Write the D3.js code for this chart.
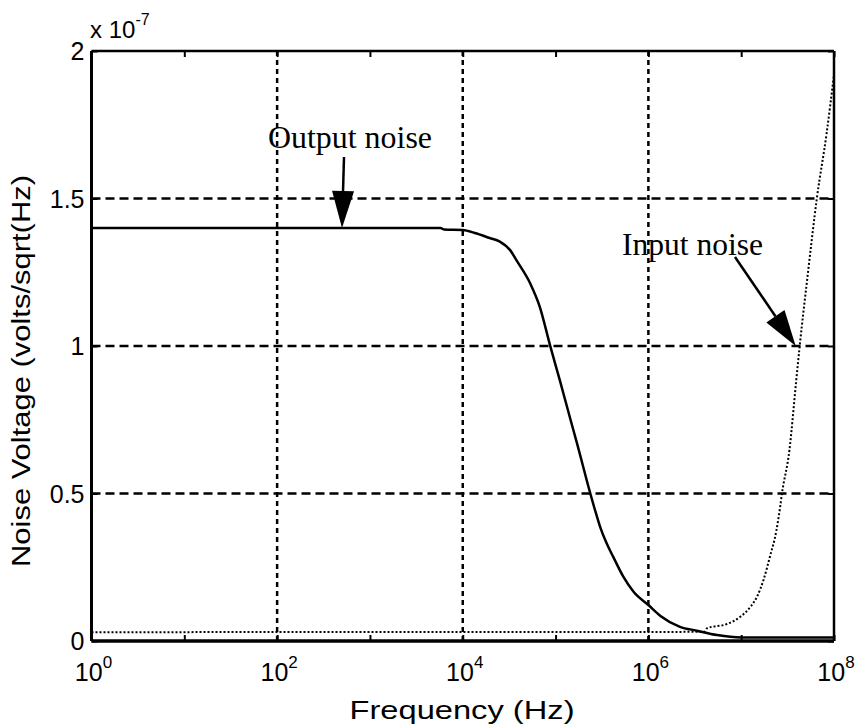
<!DOCTYPE html>
<html>
<head>
<meta charset="utf-8">
<script src="https://cdn.jsdelivr.net/npm/d3@7"></script>
<style>
  html, body { margin: 0; padding: 0; background: #fff; }
  svg { display: block; }
</style>
</head>
<body>
<svg id="chart" width="860" height="727"></svg>
<script>
// ---- data (values in units of 1e-7 V/sqrt(Hz)) ----
const outputFreq  = [1, 5.75e3, 6.31e3, 1e4, 1.35e4, 1.95e4, 2.51e4, 3.24e4, 3.8e4, 5.37e4, 6.76e4, 8.71e4, 1.12e5, 1.45e5, 1.70e5, 2.34e5, 2.66e5, 3.02e5, 3.55e5, 4.17e5, 5.37e5, 6.92e5, 1e6, 1.35e6, 2.19e6, 3.31e6, 5.5e6, 1e7, 1e8];
const outputNoise = [1.40, 1.40, 1.395, 1.393, 1.383, 1.366, 1.354, 1.325, 1.29, 1.21, 1.133, 1.003, 0.88, 0.75, 0.671, 0.506, 0.444, 0.387, 0.331, 0.286, 0.218, 0.167, 0.122, 0.085, 0.048, 0.035, 0.02, 0.012, 0.012];

const inputFreq  = [1, 3.98e6, 4.27e6, 7.08e6, 9.77e6, 1.26e7, 1.48e7, 1.74e7, 2.04e7, 2.40e7, 2.63e7, 2.75e7, 3.31e7, 3.89e7, 4.27e7, 5.25e7, 6.53e7, 8.32e7, 1e8];
const inputNoise = [0.030, 0.031, 0.043, 0.058, 0.082, 0.116, 0.15, 0.207, 0.286, 0.376, 0.455, 0.5, 0.647, 0.873, 1.0, 1.25, 1.5, 1.72, 1.92];

const xTickValues = [1, 1e2, 1e4, 1e6, 1e8];
const xTickExps   = ["0", "2", "4", "6", "8"];
const xMinorTicks = [1, 1e1, 1e2, 1e3, 1e4, 1e5, 1e6, 1e7, 1e8];
const yTickValues = [0, 0.5, 1, 1.5, 2];
const yTickLabels = ["0", "0.5", "1", "1.5", "2"];

// ---- layout ----
const L = 91.5, R = 834, T = 51, B = 641;
const svg = d3.select("#chart");
const x = d3.scaleLog().domain([1, 1e8]).range([L, R]);
const y = d3.scaleLinear().domain([0, 2]).range([B, T]);
const sans = "'Liberation Sans', Arial, sans-serif";
const serif = "'Liberation Serif', 'Times New Roman', serif";

// grid
const grid = svg.append("g").attr("stroke", "#000").attr("stroke-width", 2.5).attr("fill", "none");
grid.selectAll(".vg").data(xTickValues.slice(1, -1)).enter().append("line")
  .attr("x1", d => x(d)).attr("x2", d => x(d)).attr("y1", T).attr("y2", B)
  .attr("stroke-dasharray", "5,4");
grid.selectAll(".hg").data(yTickValues.slice(1, -1)).enter().append("line")
  .attr("y1", d => y(d)).attr("y2", d => y(d)).attr("x1", L).attr("x2", R)
  .attr("stroke-dasharray", "9,5");

// curves
const line = d3.line().x(d => x(d[0])).y(d => y(d[1])).curve(d3.curveMonotoneX);
svg.append("path").datum(inputFreq.map((f, i) => [f, inputNoise[i]]))
  .attr("d", line).attr("fill", "none").attr("stroke", "#000")
  .attr("stroke-width", 2).attr("stroke-dasharray", "2,2");
svg.append("path").datum(outputFreq.map((f, i) => [f, outputNoise[i]]))
  .attr("d", line).attr("fill", "none").attr("stroke", "#000")
  .attr("stroke-width", 2.5);

// axes (inward ticks)
const axB = svg.append("g").attr("transform", `translate(0,${B})`)
  .call(d3.axisBottom(x).tickValues(xMinorTicks).tickSize(-6).tickFormat(""));
const axT = svg.append("g").attr("transform", `translate(0,${T})`)
  .call(d3.axisTop(x).tickValues(xMinorTicks).tickSize(-6).tickFormat(""));
const axL = svg.append("g").attr("transform", `translate(${L},0)`)
  .call(d3.axisLeft(y).tickValues(yTickValues).tickSize(-6).tickPadding(7)
        .tickFormat((d, i) => yTickLabels[i]));
const axR = svg.append("g").attr("transform", `translate(${R},0)`)
  .call(d3.axisRight(y).tickValues(yTickValues).tickSize(-6).tickFormat(""));
[axB, axT, axL, axR].forEach(g => {
  g.selectAll(".domain").remove();
  g.selectAll(".tick line").attr("stroke", "#000").attr("stroke-width", 2);
});
axL.selectAll(".tick text").attr("font-family", sans).attr("font-size", 25)
  .attr("fill", "#000").attr("dy", "0.35em");

// frame
svg.append("line").attr("x1", L).attr("x2", L).attr("y1", T).attr("y2", B).attr("stroke", "#000").attr("stroke-width", 3);
svg.append("line").attr("x1", L).attr("x2", R).attr("y1", B).attr("y2", B).attr("stroke", "#000").attr("stroke-width", 3.5);
svg.append("line").attr("x1", R).attr("x2", R).attr("y1", T).attr("y2", B).attr("stroke", "#000").attr("stroke-width", 2.5);
svg.append("line").attr("x1", L).attr("x2", R).attr("y1", T).attr("y2", T).attr("stroke", "#000").attr("stroke-width", 2.5);

// x tick labels with superscripts
const xl = svg.append("g");
xTickValues.forEach((v, i) => {
  const t = xl.append("text").attr("x", x(v) + 2).attr("y", 681)
    .attr("text-anchor", "middle").attr("font-family", sans).attr("font-size", 25).attr("fill", "#000");
  t.append("tspan").text("10");
  t.append("tspan").attr("dy", -13).attr("font-size", 17).text(xTickExps[i]);
});

// exponent label
const ex = svg.append("text").attr("x", 90).attr("y", 38).attr("font-family", sans).attr("font-size", 24).attr("fill", "#000");
ex.append("tspan").text("x 10");
ex.append("tspan").attr("dy", -13).attr("font-size", 16).text("-7");

// axis titles
svg.append("text").attr("x", 462).attr("y", 719).attr("text-anchor", "middle")
  .attr("font-family", sans).attr("font-size", 25).attr("fill", "#000")
  .attr("textLength", 225).attr("lengthAdjust", "spacingAndGlyphs")
  .text("Frequency (Hz)");
svg.append("text").attr("transform", "translate(30,371) rotate(-90)").attr("text-anchor", "middle")
  .attr("font-family", sans).attr("font-size", 25).attr("fill", "#000")
  .attr("textLength", 392).attr("lengthAdjust", "spacingAndGlyphs")
  .text("Noise Voltage (volts/sqrt(Hz)");

// annotations
function arrow(x1, y1, x2, y2, headLen, headW) {
  const dx = x2 - x1, dy = y2 - y1, len = Math.hypot(dx, dy);
  const ux = dx / len, uy = dy / len;
  const bx = x2 - ux * headLen, by = y2 - uy * headLen;
  svg.append("line").attr("x1", x1).attr("y1", y1).attr("x2", bx).attr("y2", by)
    .attr("stroke", "#000").attr("stroke-width", 2.5);
  svg.append("path").attr("d", `M${x2},${y2}L${bx - uy * headW / 2},${by + ux * headW / 2}L${bx + uy * headW / 2},${by - ux * headW / 2}Z`)
    .attr("fill", "#000");
}
svg.append("text").attr("x", 268).attr("y", 148).attr("font-family", serif).attr("font-size", 31)
  .attr("fill", "#000").attr("textLength", 164).attr("lengthAdjust", "spacingAndGlyphs").text("Output noise");
arrow(344, 157, x(5e2), y(1.40), 37, 22);
svg.append("text").attr("x", 622).attr("y", 255).attr("font-family", serif).attr("font-size", 31)
  .attr("fill", "#000").attr("textLength", 141).attr("lengthAdjust", "spacingAndGlyphs").text("Input noise");
arrow(735, 257, x(4.27e7) - 4, y(1.0), 36, 22);
</script>
</body>
</html>
